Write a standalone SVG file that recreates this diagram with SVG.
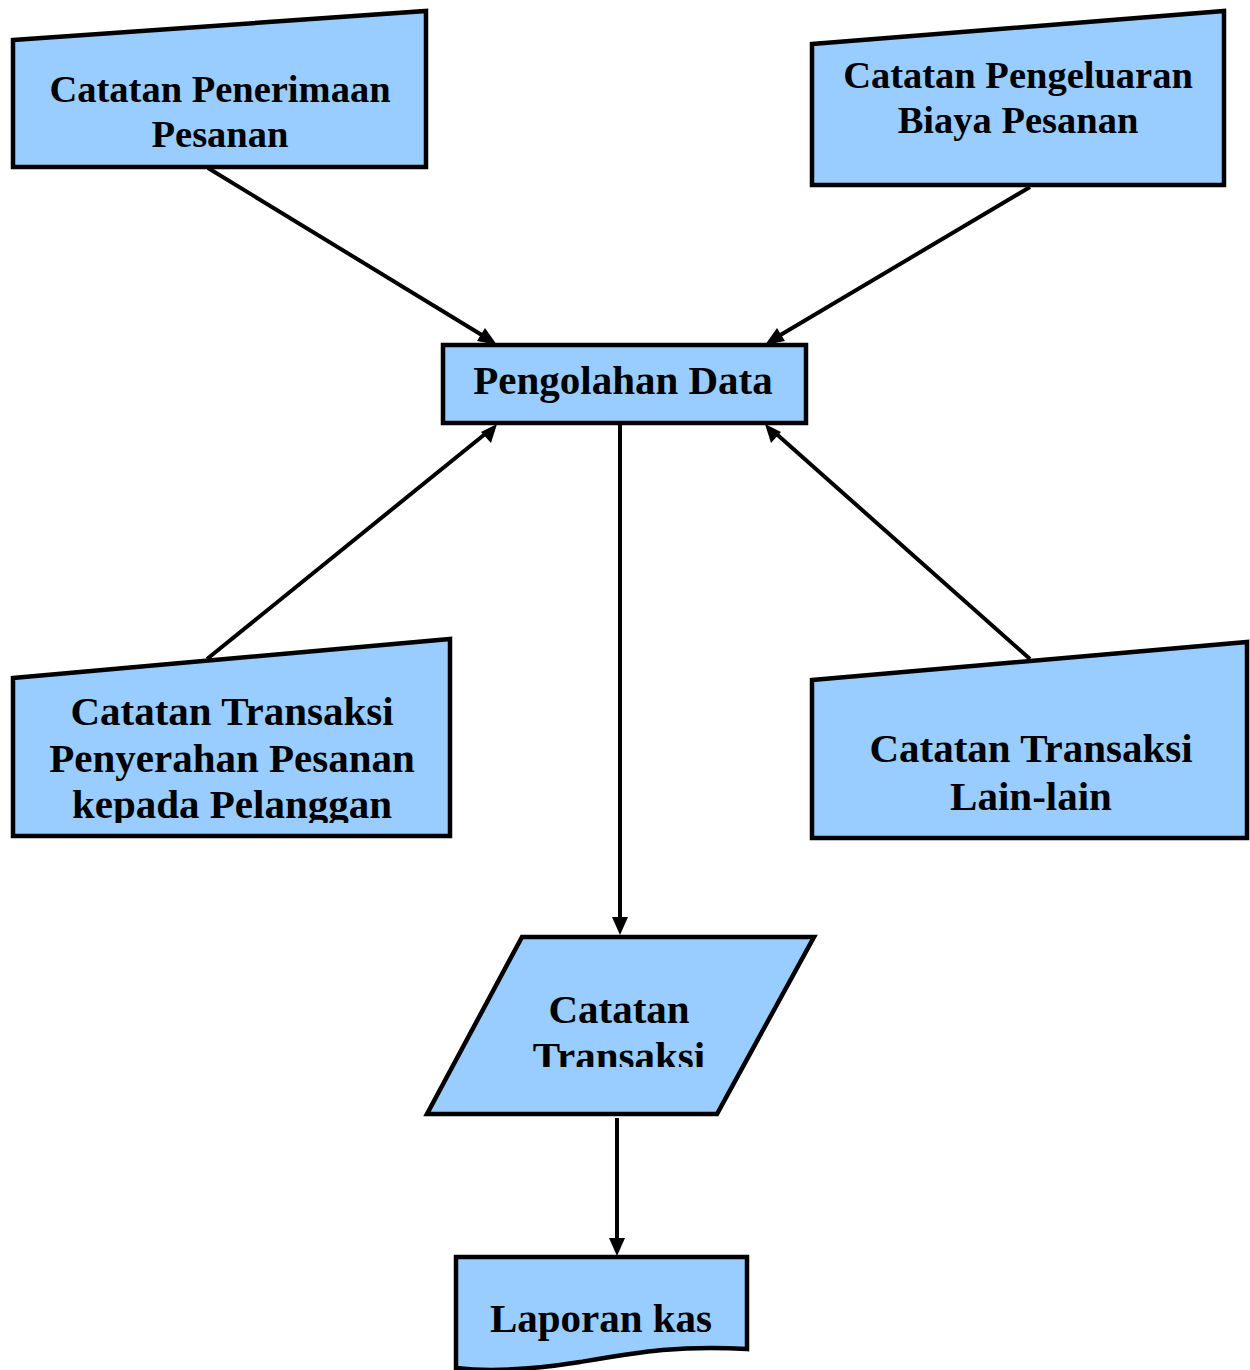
<svg xmlns="http://www.w3.org/2000/svg" width="1250" height="1370" viewBox="0 0 1250 1370">
<style>
.node{fill:#99ccff;stroke:#000;stroke-width:4.5;stroke-linejoin:miter}
.t{font-family:"Liberation Serif","Times New Roman",serif;font-weight:bold;font-size:41px;fill:#000;text-anchor:middle}
.t2{font-size:38.5px}
.conn{stroke:#000;stroke-width:4;fill:none}
.ah{fill:#000}
</style>
<defs>
<clipPath id="c4"><rect x="0" y="600" width="460" height="223"/></clipPath>
<clipPath id="c6"><rect x="400" y="930" width="420" height="137"/></clipPath>
</defs>
<rect width="1250" height="1370" fill="#fff"/>
<g id="connectors">
<line class="conn" x1="208" y1="168" x2="490" y2="340"/>
<line class="conn" x1="1030" y1="187" x2="772" y2="340"/>
<line class="conn" x1="207" y1="659" x2="490" y2="430"/>
<line class="conn" x1="1030" y1="659" x2="772" y2="430"/>
<line class="conn" x1="620" y1="424" x2="620" y2="920"/>
<line class="conn" x1="617" y1="1118" x2="617" y2="1242"/>
<polygon class="ah" points="497,345 477,341 485,328"/>
<polygon class="ah" points="765,345 777,328 785,341"/>
<polygon class="ah" points="497,424 491,443 481,432"/>
<polygon class="ah" points="765,424 781,432 771,443"/>
<polygon class="ah" points="620,935 612,917 628,917"/>
<polygon class="ah" points="617,1256 609,1238 625,1238"/>
</g>
<g id="n1">
<polygon class="node" points="13,40 426,11 426,167 13,167"/>
<text class="t t2" x="220" y="102">Catatan Penerimaan</text>
<text class="t t2" x="220" y="147">Pesanan</text>
</g>
<g id="n2">
<polygon class="node" points="812,44 1224,11 1224,185 812,185"/>
<text class="t t2" x="1018" y="88">Catatan Pengeluaran</text>
<text class="t t2" x="1018" y="133">Biaya Pesanan</text>
</g>
<g id="n3">
<rect class="node" x="443" y="345" width="363" height="78"/>
<text class="t" x="623" y="394">Pengolahan Data</text>
</g>
<g id="n4">
<polygon class="node" points="13,678 450,639 450,836 13,836"/>
<g clip-path="url(#c4)">
<text class="t" x="232" y="725">Catatan Transaksi</text>
<text class="t" x="232" y="772">Penyerahan Pesanan</text>
<text class="t" x="232" y="818">kepada Pelanggan</text>
</g>
</g>
<g id="n5">
<polygon class="node" points="812,680 1247,642 1247,838 812,838"/>
<text class="t" x="1031" y="762">Catatan Transaksi</text>
<text class="t" x="1031" y="810">Lain-lain</text>
</g>
<g id="n6">
<polygon class="node" points="522,937 814,937 717,1114 427,1114"/>
<g clip-path="url(#c6)">
<text class="t" x="619" y="1023">Catatan</text>
<text class="t" x="619" y="1070">Transaksi</text>
</g>
</g>
<g id="n7">
<path class="node" d="M456,1372 L456,1257 L747,1257 L747,1349 C680,1345 640,1352 580,1362 C530,1370 490,1372 456,1368"/>
<text class="t" x="601" y="1332">Laporan kas</text>
</g>
</svg>
